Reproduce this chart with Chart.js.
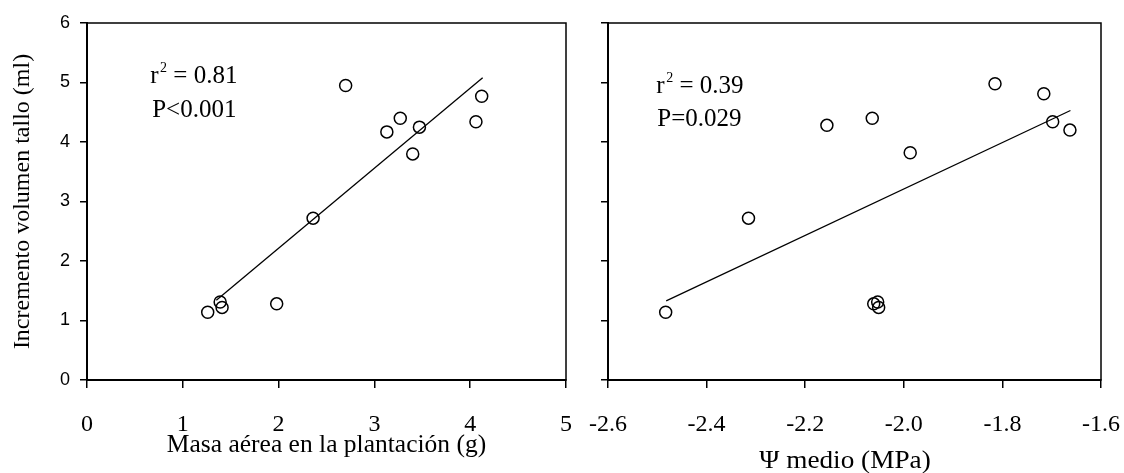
<!DOCTYPE html>
<html>
<head>
<meta charset="utf-8">
<script src="https://cdn.jsdelivr.net/npm/chart.js@4"></script>
<style>
  body { margin: 0; background: #fff; }
  #left-box { position: absolute; left: 0; top: 0; width: 580px; height: 473px; }
  #right-box { position: absolute; left: 580px; top: 0; width: 544px; height: 473px; }
</style>
</head>
<body>
<div id="left-box"><canvas id="left-chart"></canvas></div>
<div id="right-box"><canvas id="right-chart"></canvas></div>
<script>
// left panel: masa aerea vs incremento volumen
const masaX = [1.26, 1.39, 1.41, 1.98, 2.36, 2.70, 3.13, 3.27, 3.47, 3.40, 4.06, 4.12];
const masaY = [1.14, 1.31, 1.22, 1.28, 2.72, 4.95, 4.17, 4.40, 4.25, 3.80, 4.34, 4.77];
const masaFitX = [1.35, 4.13];
const masaFitY = [1.34, 5.08];

// right panel: potencial hidrico medio vs incremento volumen
const psiX = [-2.483, -2.315, -2.156, -2.064, -2.061, -2.053, -2.051, -1.987, -1.815, -1.716, -1.698, -1.663];
const psiY = [1.14, 2.72, 4.28, 4.40, 1.28, 1.31, 1.22, 3.82, 4.98, 4.81, 4.34, 4.20];
const psiFitX = [-2.482, -1.662];
const psiFitY = [1.33, 4.53];

const yTicks = [0, 1, 2, 3, 4, 5, 6];
const masaTicks = [0, 1, 2, 3, 4, 5];
const psiTicks = [-2.6, -2.4, -2.2, -2.0, -1.8, -1.6];

const serif = '"Liberation Serif", "Times New Roman", serif';
const sans = '"Liberation Sans", Arial, sans-serif';

const toPoints = (xs, ys) => xs.map((x, i) => ({x: x, y: ys[i]}));

// box round the plot area plus the r2 / P notes
const notesPlugin = {
  id: 'notes',
  afterDraw(chart, args, opts) {
    const ctx = chart.ctx;
    const area = chart.chartArea;
    ctx.save();
    ctx.strokeStyle = '#000';
    ctx.lineWidth = 1.5;
    ctx.strokeRect(area.left, area.top, area.right - area.left, area.bottom - area.top);
    ctx.fillStyle = '#000';
    ctx.textBaseline = 'alphabetic';
    ctx.textAlign = 'left';
    (opts.lines || []).forEach(n => {
      let px = chart.scales.x.getPixelForValue(n.x);
      let py = chart.scales.y.getPixelForValue(n.y);
      ctx.font = '25px ' + serif;
      ctx.fillText(n.text, px, py);
      if (n.sup) {
        px += ctx.measureText(n.text).width + 1.5;
        ctx.font = '14px ' + serif;
        ctx.fillText(n.sup, px, py - 11);
        px += ctx.measureText(n.sup).width;
        ctx.font = '25px ' + serif;
        ctx.fillText(n.after, px, py);
      }
    });
    if (opts.title) {
      // the original axis text is a little wider than the font
      ctx.translate(opts.titleX, opts.titleY);
      ctx.scale(1.09, 1);
      ctx.font = '25px ' + serif;
      ctx.textAlign = 'center';
      ctx.textBaseline = 'middle';
      ctx.fillText(opts.title, 0, 0);
    }
    ctx.restore();
  }
};

function makeChart(id, pts, fit, xTicks, xMin, xMax, cfg) {
  return new Chart(document.getElementById(id), {
    type: 'scatter',
    plugins: [notesPlugin],
    data: {
      datasets: [
        {
          data: pts,
          pointStyle: 'circle',
          pointRadius: 6,
          pointBorderWidth: 1.5,
          pointBorderColor: '#000',
          pointBackgroundColor: 'rgba(0,0,0,0)'
        },
        {
          type: 'line',
          data: fit,
          borderColor: '#000',
          borderWidth: 1.3,
          pointRadius: 0,
          fill: false
        }
      ]
    },
    options: {
      animation: false,
      responsive: true,
      maintainAspectRatio: false,
      layout: { padding: cfg.padding },
      plugins: {
        legend: { display: false },
        tooltip: { enabled: false },
        notes: cfg.notes
      },
      scales: {
        x: {
          type: 'linear',
          min: xMin,
          max: xMax,
          afterBuildTicks: s => { s.ticks = xTicks.map(v => ({value: v})); },
          afterFit: s => {
            s.height = 93;
            s.paddingLeft = 0;
            s.paddingRight = 0;
          },
          ticks: {
            color: '#000',
            padding: 22,
            maxRotation: 0,
            autoSkip: false,
            font: { family: serif, size: 24 },
            callback: v => cfg.fmt(v)
          },
          grid: { drawOnChartArea: false, drawTicks: true, tickLength: 8, color: '#000', lineWidth: 1.5 },
          border: { color: '#000', width: 2 },
          title: {
            display: !!cfg.xTitle,
            text: cfg.xTitle,
            color: '#000',
            font: { family: serif, size: 25.5 },
            padding: { top: 0, bottom: 12 }
          }
        },
        y: {
          type: 'linear',
          min: 0,
          max: 6,
          afterBuildTicks: s => { s.ticks = yTicks.map(v => ({value: v})); },
          afterFit: s => {
            s.width = cfg.yWidth;
            s.paddingTop = 0;
            s.paddingBottom = 0;
          },
          ticks: {
            display: cfg.yLabels,
            color: '#000',
            padding: 10,
            font: { family: sans, size: 18 }
          },
          grid: { drawOnChartArea: false, drawTicks: true, tickLength: 7, color: '#000', lineWidth: 1.5 },
          border: { color: '#000', width: 2 },
          title: {
            display: !!cfg.yTitle,
            text: cfg.yTitle,
            color: '#000',
            font: { family: serif, size: 24 },
            padding: { top: 8, bottom: 0 }
          }
        }
      }
    }
  });
}

makeChart('left-chart', toPoints(masaX, masaY), toPoints(masaFitX, masaFitY), masaTicks, 0, 5, {
  padding: { left: 0, top: 23, right: 14, bottom: 0 },
  yWidth: 87,
  yLabels: true,
  yTitle: 'Incremento volumen tallo (ml)',
  xTitle: 'Masa aérea en la plantación (g)',
  fmt: v => String(v),
  notes: {
    lines: [
      { x: 0.66, y: 4.99, text: 'r', sup: '2', after: ' = 0.81' },
      { x: 0.68, y: 4.42, text: 'P<0.001' }
    ]
  }
});

makeChart('right-chart', toPoints(psiX, psiY), toPoints(psiFitX, psiFitY), psiTicks, -2.6, -1.6, {
  padding: { left: 0, top: 23, right: 23, bottom: 0 },
  yWidth: 28,
  yLabels: false,
  yTitle: '',
  xTitle: '',
  fmt: v => v.toFixed(1),
  notes: {
    lines: [
      { x: -2.502, y: 4.82, text: 'r', sup: '2', after: ' = 0.39' },
      { x: -2.500, y: 4.27, text: 'P=0.029' }
    ],
    title: 'Ψ medio (MPa)',
    titleX: 265,
    titleY: 461
  }
});
</script>
</body>
</html>
